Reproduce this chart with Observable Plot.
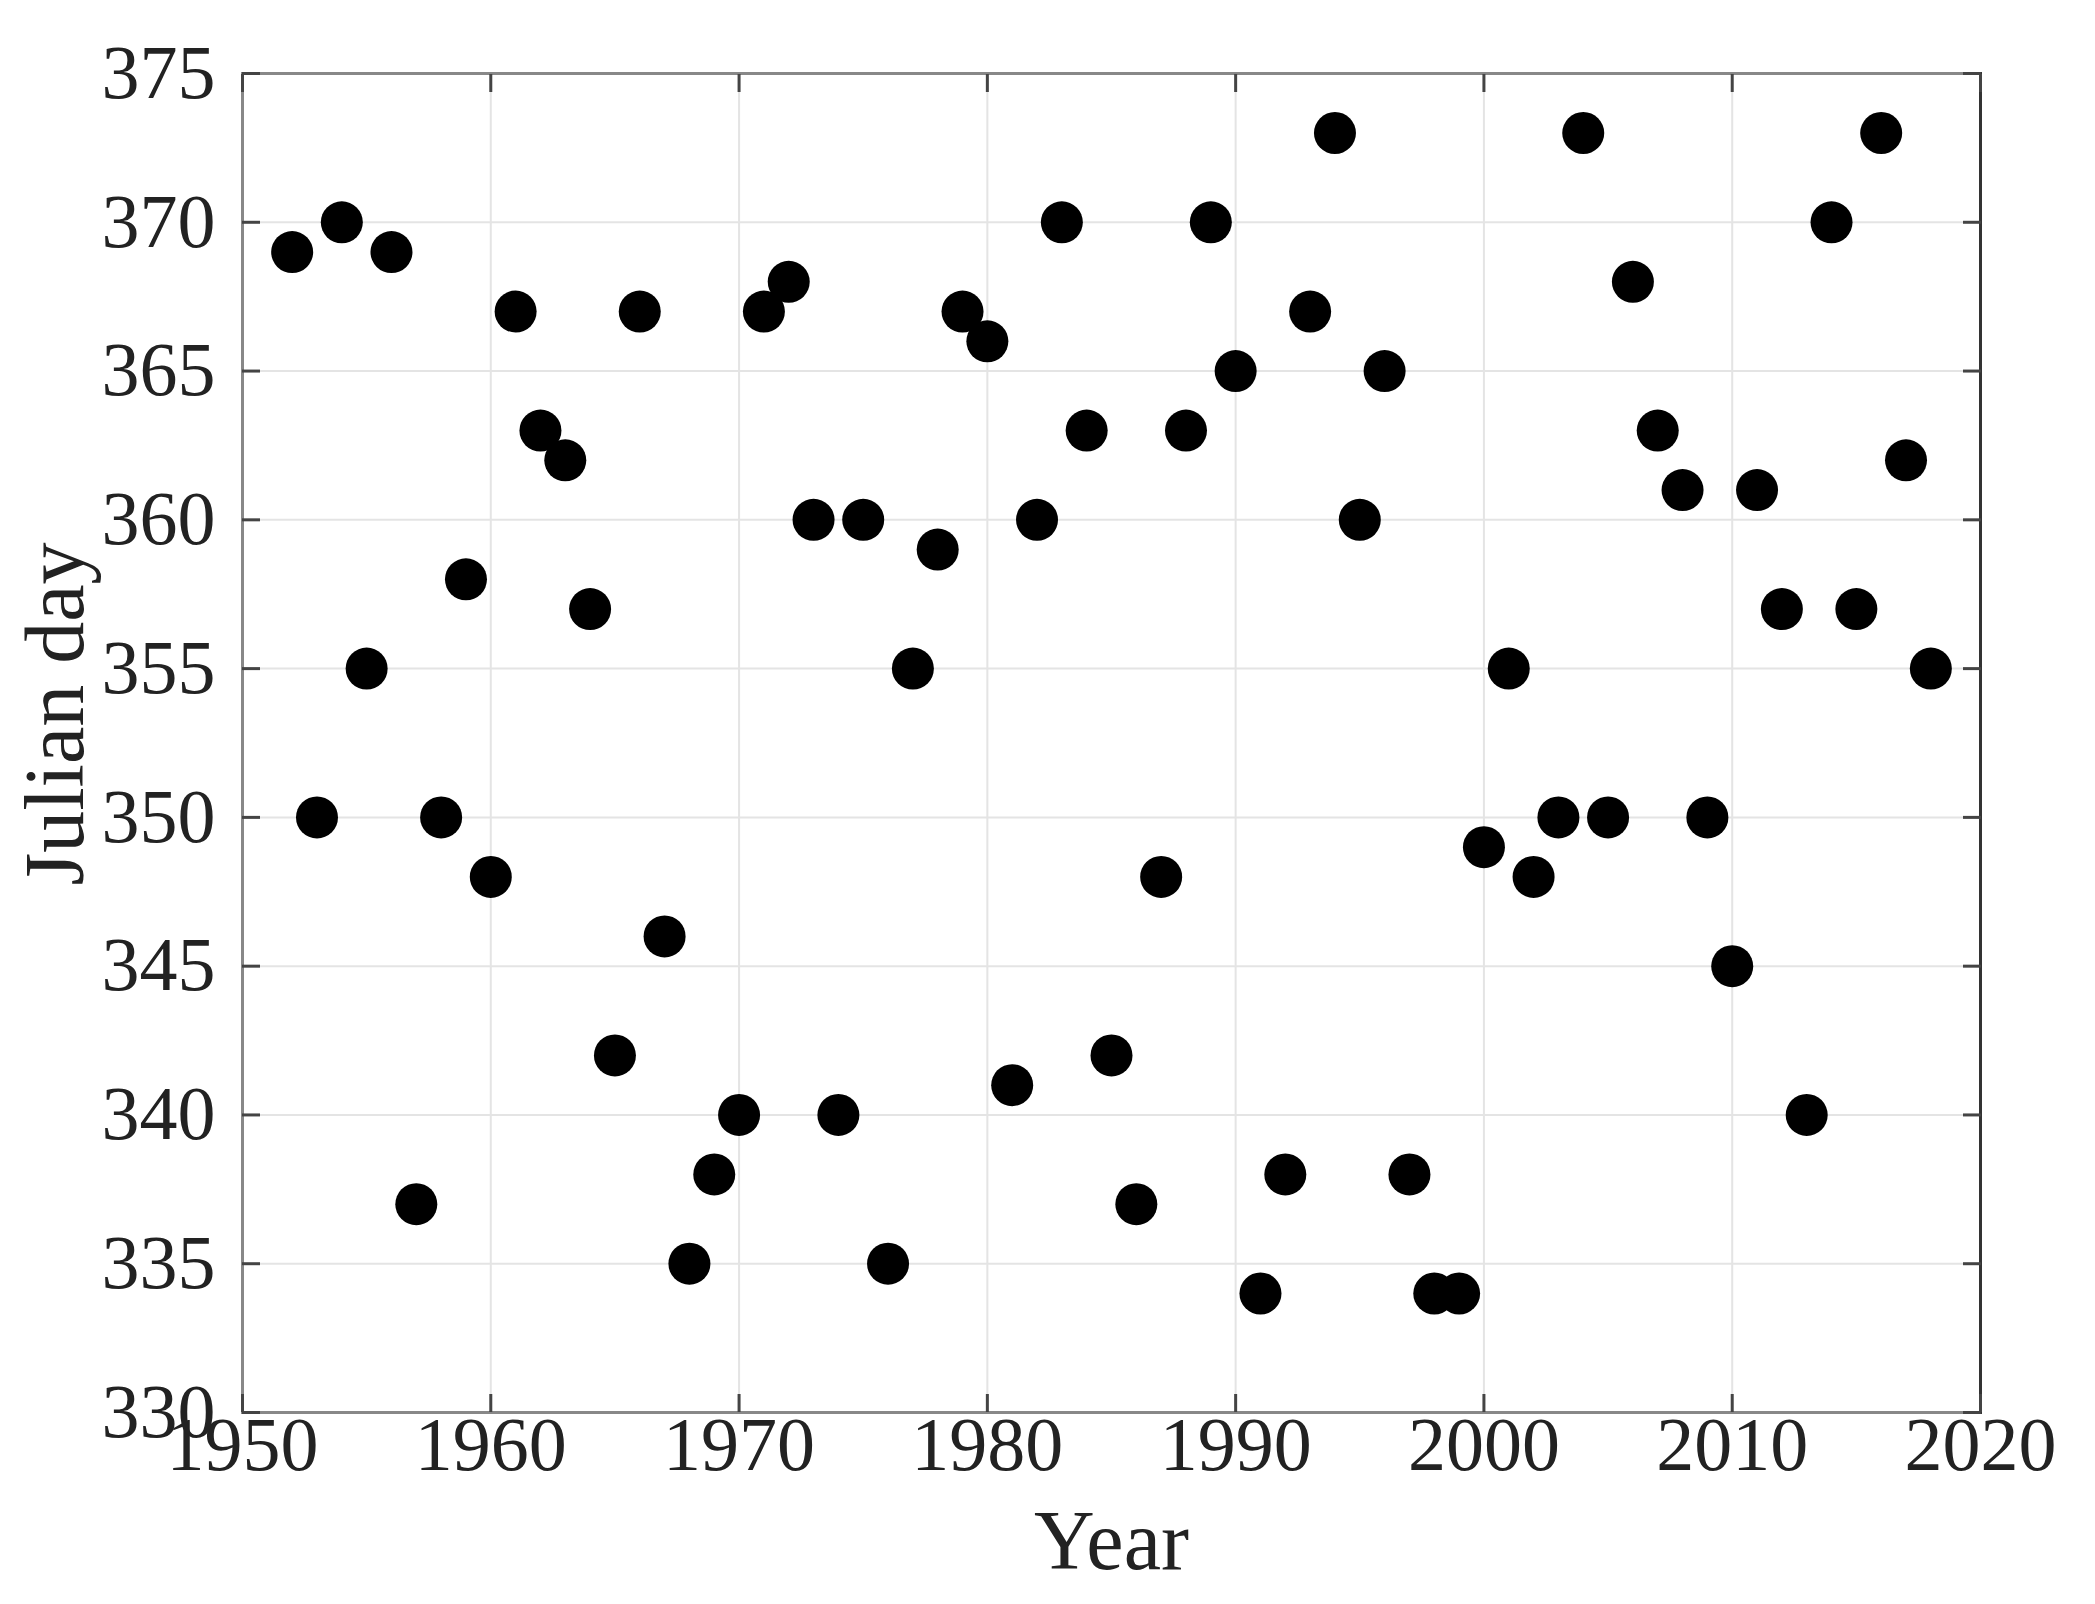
<!DOCTYPE html>
<html>
<head>
<meta charset="utf-8">
<script src="https://cdn.jsdelivr.net/npm/d3@7"></script>
<script src="https://cdn.jsdelivr.net/npm/@observablehq/plot@0.6"></script>
<style>
  html, body { margin: 0; padding: 0; background: #fff; }
</style>
</head>
<body>
<div id="chart"></div>
<script>
const years = [1952,1953,1954,1955,1956,1957,1958,1959,1960,1961,1962,1963,1964,1965,1966,1967,1968,1969,1970,1971,1972,1973,1974,1975,1976,1977,1978,1979,1980,1981,1982,1983,1984,1985,1986,1987,1988,1989,1990,1991,1992,1993,1994,1995,1996,1997,1998,1999,2000,2001,2002,2003,2004,2005,2006,2007,2008,2009,2010,2011,2012,2013,2014,2015,2016,2017,2018];
const julianDay = [369,350,370,355,369,337,350,358,348,367,363,362,357,342,367,346,335,338,340,367,368,360,340,360,335,355,359,367,366,341,360,370,363,342,337,348,363,370,365,334,338,367,373,360,365,338,334,334,349,355,348,350,373,350,368,363,361,350,345,361,357,340,370,357,373,362,355];
const xTicks = [1950,1960,1970,1980,1990,2000,2010,2020];
const yTicks = [330,335,340,345,350,355,360,365,370,375];
const xTitle = "Year";
const yTitle = "Julian day";

const data = years.map((y, i) => ({year: y, day: julianDay[i]}));

const chart = Plot.plot({
  width: 2095,
  height: 1604,
  marginLeft: 242,
  marginRight: 115,
  marginTop: 73,
  marginBottom: 192,
  style: {fontFamily: "'Liberation Serif', 'Times New Roman', serif", fontSize: "76px", color: "#222", background: "#fff"},
  x: {domain: [1950, 2020]},
  y: {domain: [330, 375]},
  marks: [
    Plot.gridX(xTicks, {stroke: "#e4e4e4", strokeOpacity: 1, strokeWidth: 2}),
    Plot.gridY(yTicks, {stroke: "#e4e4e4", strokeOpacity: 1, strokeWidth: 2}),
    Plot.frame({stroke: "#888", strokeWidth: 3}),
    Plot.frame({anchor: "right", stroke: "#333", strokeWidth: 3}),
    // inward tick marks on all four sides
    Plot.axisX(xTicks, {anchor: "bottom", tickSize: -18, text: null, stroke: "#444", strokeWidth: 3, label: null}),
    Plot.axisX(xTicks, {anchor: "top", tickSize: -18, text: null, stroke: "#444", strokeWidth: 3, label: null}),
    Plot.axisY(yTicks, {anchor: "left", tickSize: -18, text: null, stroke: "#444", strokeWidth: 3, label: null}),
    Plot.axisY(yTicks, {anchor: "right", tickSize: -18, text: null, stroke: "#444", strokeWidth: 3, label: null}),
    // tick labels
    Plot.axisX(xTicks, {anchor: "bottom", tickSize: 0, tickPadding: 4, tickFormat: d => String(d), fontSize: 76, fill: "#222", label: null}),
    Plot.axisY(yTicks, {anchor: "left", tickSize: 0, tickPadding: 27, tickFormat: d => String(d), fontSize: 76, fill: "#222", label: null}),
    // axis titles
    Plot.text([xTitle], {frameAnchor: "bottom", textAnchor: "middle", lineAnchor: "bottom", dy: 156, fontSize: 84, fill: "#222"}),
    Plot.text([yTitle], {frameAnchor: "left", textAnchor: "middle", lineAnchor: "bottom", rotate: -90, dx: -160, dy: -29, fontSize: 84, fill: "#222"}),
    Plot.dot(data, {x: "year", y: "day", r: 21, fill: "#000", stroke: "none"})
  ]
});
document.getElementById("chart").appendChild(chart);
</script>
</body>
</html>
